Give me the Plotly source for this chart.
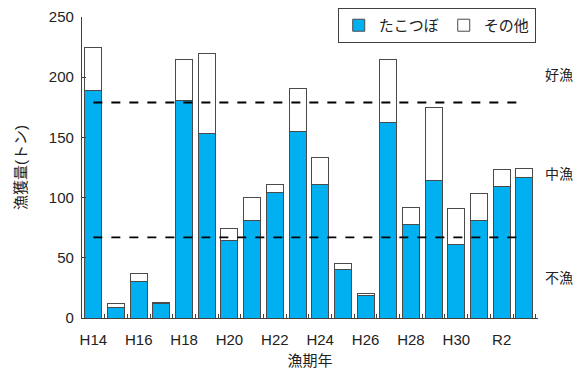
import plotly.graph_objects as go

# 漁期年ごとの漁獲量（トン）
years = ["H14", "H15", "H16", "H17", "H18", "H19", "H20", "H21", "H22", "H23",
         "H24", "H25", "H26", "H27", "H28", "H29", "H30", "H31", "R2", "R3"]
takotsubo = [189, 9, 30, 12, 181, 153, 64, 81, 104, 155,
             111, 40, 19, 162, 78, 114, 61, 81, 109, 117]
total = [225, 12, 37, 13, 215, 220, 74, 100, 111, 191,
         133, 45, 20, 215, 92, 175, 91, 103, 123, 124]
sonota = [t - k for t, k in zip(total, takotsubo)]

# 判定基準（好漁／中漁／不漁の境界）
good_line = 179
poor_line = 67
zone_labels = ["好漁", "中漁", "不漁"]
zone_label_y = [202, 120, 33]

tick_text = [y if i % 2 == 0 else "" for i, y in enumerate(years)]

FONT = "Liberation Sans, Arial, Noto Sans CJK JP, sans-serif"
EDGE = "#4a4a4a"
TEXT = "#222222"

fig = go.Figure()
fig.add_trace(go.Bar(
    x=years, y=takotsubo, name="たこつぼ",
    marker=dict(color="#00B0F0", line=dict(color=EDGE, width=1)),
))
fig.add_trace(go.Bar(
    x=years, y=sonota, name="その他",
    marker=dict(color="#FFFFFF", line=dict(color=EDGE, width=1)),
))

for level in (good_line, poor_line):
    fig.add_shape(type="line", xref="x", yref="y",
                  x0=0, x1=len(years) - 1, y0=level, y1=level,
                  line=dict(color="#000000", width=1.8, dash="dash"))

for label, yv in zip(zone_labels, zone_label_y):
    fig.add_annotation(text=label, xref="paper", yref="y",
                       x=1.01, y=yv, xanchor="left", yanchor="middle",
                       showarrow=False, font=dict(size=14, color=TEXT, family=FONT))

fig.update_layout(
    width=573, height=369,
    margin=dict(l=82, r=35, t=17, b=51, autoexpand=False),
    barmode="stack", bargap=0.25,
    plot_bgcolor="white", paper_bgcolor="white",
    font=dict(family=FONT, size=15, color=TEXT),
    showlegend=True,
    legend=dict(orientation="h", x=0.995, y=1.03, xanchor="right", yanchor="top",
                bordercolor="#404040", borderwidth=1, bgcolor="white",
                font=dict(size=15), itemwidth=30, traceorder="normal"),
    xaxis=dict(
        type="category", tickvals=years, ticktext=tick_text, tickangle=0,
        tickson="boundaries", ticks="inside", ticklen=4, tickcolor="#404040",
        ticklabelstandoff=8,
        showline=True, linecolor="#404040", linewidth=1.2,
        title=dict(text="漁期年", font=dict(size=15), standoff=10),
        tickfont=dict(size=15), range=[-0.5, len(years) - 0.4],
    ),
    yaxis=dict(
        range=[0, 250], tickvals=[0, 50, 100, 150, 200, 250],
        ticks="inside", ticklen=4, tickcolor="#404040",
        ticklabelstandoff=4,
        showline=True, linecolor="#404040", linewidth=1.2,
        showgrid=False, zeroline=False,
        title=dict(text="漁獲量(トン)", font=dict(size=15), standoff=18),
        tickfont=dict(size=15),
    ),
)

fig.write_html("out.html")
